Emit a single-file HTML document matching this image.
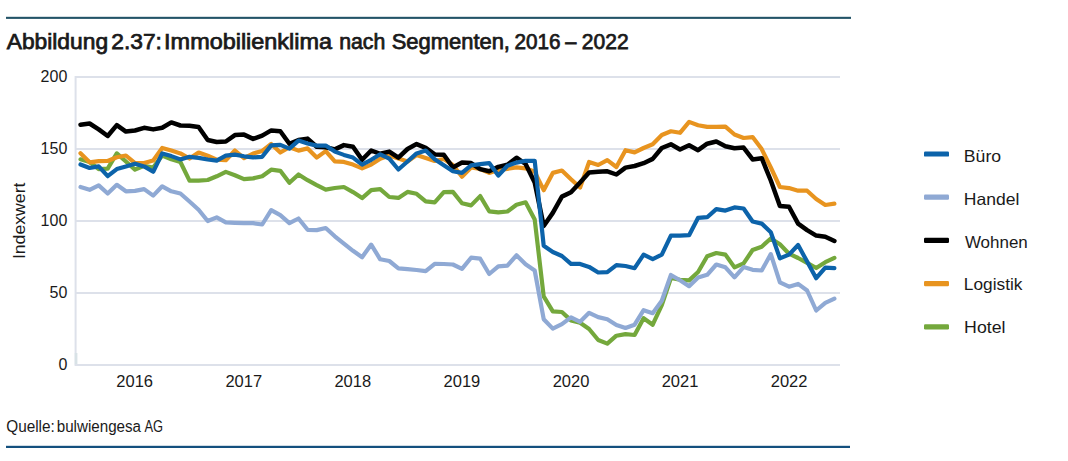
<!DOCTYPE html>
<html><head><meta charset="utf-8">
<style>
html,body{margin:0;padding:0;background:#fff;}
body{width:1068px;height:461px;overflow:hidden;position:relative;font-family:"Liberation Sans",sans-serif;color:#1a1a1a;}
svg{position:absolute;left:0;top:0;}
svg text{font-family:"Liberation Sans",sans-serif;fill:#1a1a1a;}
</style></head><body>
<svg width="1068" height="461" viewBox="0 0 1068 461">
<rect x="6" y="16.8" width="845" height="2.1" fill="#235468"/>
<g font-size="21.5" stroke="#1a1a1a" stroke-width="0.75"><text x="6.7" y="48.8" textLength="101.38" lengthAdjust="spacingAndGlyphs">Abbildung</text><text x="111.34" y="48.8" textLength="50.59" lengthAdjust="spacingAndGlyphs">2.37:</text><text x="164.12" y="48.8" textLength="167.93" lengthAdjust="spacingAndGlyphs">Immobilienklima</text><text x="339.21" y="48.8" textLength="46.11" lengthAdjust="spacingAndGlyphs">nach</text><text x="391.68" y="48.8" textLength="118.31" lengthAdjust="spacingAndGlyphs">Segmenten,</text><text x="514.44" y="48.8" textLength="46.08" lengthAdjust="spacingAndGlyphs">2016</text><text x="565.3" y="48.8" textLength="11.17" lengthAdjust="spacingAndGlyphs">–</text><text x="581.82" y="48.8" textLength="46.8" lengthAdjust="spacingAndGlyphs">2022</text></g>
<line x1="76" y1="293.00" x2="840" y2="293.00" stroke="#dde1ea" stroke-width="2"/>
<line x1="76" y1="221.00" x2="840" y2="221.00" stroke="#dde1ea" stroke-width="2"/>
<line x1="76" y1="149.00" x2="840" y2="149.00" stroke="#dde1ea" stroke-width="2"/>
<line x1="76" y1="77.00" x2="840" y2="77.00" stroke="#dde1ea" stroke-width="2"/>
<line x1="75.6" y1="76" x2="75.6" y2="366" stroke="#dde1ea" stroke-width="2"/><rect x="74.8" y="353" width="2.6" height="12" fill="#d8e2e6"/>
<line x1="75" y1="365" x2="840" y2="365" stroke="#dde1ea" stroke-width="2"/>
<g font-size="16">
<text x="67.3" y="370.2" text-anchor="end">0</text>
<text x="67.3" y="298.2" text-anchor="end">50</text>
<text x="67.3" y="226.2" text-anchor="end">100</text>
<text x="67.3" y="154.2" text-anchor="end">150</text>
<text x="67.3" y="82.2" text-anchor="end">200</text>
<text x="134.7" y="387" text-anchor="middle" font-size="16.5">2016</text>
<text x="243.8" y="387" text-anchor="middle" font-size="16.5">2017</text>
<text x="352.8" y="387" text-anchor="middle" font-size="16.5">2018</text>
<text x="461.9" y="387" text-anchor="middle" font-size="16.5">2019</text>
<text x="571.0" y="387" text-anchor="middle" font-size="16.5">2020</text>
<text x="680.0" y="387" text-anchor="middle" font-size="16.5">2021</text>
<text x="789.1" y="387" text-anchor="middle" font-size="16.5">2022</text>
</g>
<text transform="translate(25.2,259.1) rotate(-90)" x="0" y="0" font-size="16" textLength="76.52" lengthAdjust="spacingAndGlyphs">Indexwert</text>
<polyline points="80.5,159.3 89.6,162.0 98.7,169.1 107.7,168.6 116.8,153.4 125.9,161.5 135.0,169.6 144.1,165.8 153.2,167.5 162.2,155.5 171.3,159.3 180.4,162.0 189.5,180.6 198.6,180.6 207.7,180.0 216.7,176.3 225.8,171.9 234.9,175.2 244.0,179.1 253.1,178.4 262.2,176.3 271.2,169.7 280.3,170.8 289.4,182.8 298.5,174.5 307.6,180.2 316.7,185.1 325.7,189.6 334.8,188.0 343.9,187.0 353.0,192.1 362.1,198.1 371.2,190.2 380.2,189.2 389.3,197.0 398.4,197.9 407.5,191.9 416.6,193.8 425.7,201.3 434.7,202.4 443.8,192.1 452.9,191.9 462.0,203.2 471.1,205.4 480.2,196.1 489.2,211.3 498.3,212.4 507.4,211.5 516.5,204.8 525.6,202.3 534.7,219.4 543.7,296.4 552.8,311.4 561.9,312.0 571.0,320.4 580.1,322.8 589.1,329.0 598.2,340.0 607.3,343.6 616.4,335.7 625.5,334.1 634.6,335.0 643.6,318.2 652.7,324.7 661.8,305.2 670.9,278.0 680.0,279.8 689.1,280.4 698.1,272.0 707.2,256.3 716.3,253.0 725.4,254.6 734.5,267.4 743.6,263.4 752.6,250.0 761.7,246.7 770.8,238.5 779.9,244.3 789.0,253.7 798.1,258.0 807.1,262.8 816.2,268.0 825.3,262.2 834.4,257.9" fill="none" stroke="#74a83c" stroke-width="4.2" stroke-linejoin="round" stroke-linecap="round"/>
<polyline points="80.5,153.3 89.6,162.3 98.7,161.2 107.7,161.0 116.8,157.2 125.9,155.5 135.0,163.1 144.1,163.1 153.2,160.4 162.2,147.9 171.3,150.6 180.4,153.4 189.5,158.5 198.6,152.5 207.7,155.8 216.7,159.7 225.8,160.2 234.9,150.5 244.0,158.1 253.1,153.5 262.2,151.0 271.2,144.0 280.3,152.5 289.4,147.3 298.5,150.6 307.6,148.4 316.7,157.6 325.7,151.1 334.8,161.4 343.9,161.9 353.0,164.6 362.1,168.4 371.2,164.6 380.2,158.7 389.3,155.5 398.4,158.5 407.5,161.5 416.6,155.0 425.7,158.0 434.7,161.0 443.8,159.0 452.9,165.0 462.0,176.7 471.1,167.5 480.2,169.0 489.2,172.9 498.3,170.0 507.4,168.8 516.5,167.4 525.6,168.3 534.7,171.8 543.7,190.2 552.8,172.9 561.9,170.5 571.0,179.2 580.1,187.5 589.1,162.0 598.2,165.0 607.3,160.1 616.4,167.0 625.5,150.2 634.6,152.4 643.6,148.0 652.7,144.3 661.8,135.0 670.9,131.3 680.0,132.8 689.1,121.9 698.1,125.2 707.2,126.9 716.3,126.9 725.4,126.6 734.5,134.5 743.6,138.0 752.6,137.1 761.7,149.1 770.8,167.5 779.9,187.0 789.0,188.1 798.1,190.7 807.1,190.7 816.2,199.0 825.3,205.0 834.4,203.7" fill="none" stroke="#e8941f" stroke-width="4.2" stroke-linejoin="round" stroke-linecap="round"/>
<polyline points="80.5,124.8 89.6,123.5 98.7,129.4 107.7,136.0 116.8,125.1 125.9,131.6 135.0,130.5 144.1,127.8 153.2,129.4 162.2,127.8 171.3,122.4 180.4,125.5 189.5,125.8 198.6,127.0 207.7,140.0 216.7,142.0 225.8,141.5 234.9,135.1 244.0,134.6 253.1,138.9 262.2,135.6 271.2,130.4 280.3,131.3 289.4,143.8 298.5,140.0 307.6,138.6 316.7,146.7 325.7,147.3 334.8,149.4 343.9,145.1 353.0,146.7 362.1,159.8 371.2,150.5 380.2,153.8 389.3,151.6 398.4,157.6 407.5,149.0 416.6,144.1 425.7,147.9 434.7,154.4 443.8,154.8 452.9,167.5 462.0,162.6 471.1,163.1 480.2,169.1 489.2,171.3 498.3,166.9 507.4,164.8 516.5,157.7 525.6,164.0 534.7,182.5 543.7,226.0 552.8,212.9 561.9,196.6 571.0,192.3 580.1,182.5 589.1,172.5 598.2,171.8 607.3,171.3 616.4,174.5 625.5,167.6 634.6,166.0 643.6,163.2 652.7,158.9 661.8,148.0 670.9,144.3 680.0,149.5 689.1,145.2 698.1,150.2 707.2,143.7 716.3,141.5 725.4,146.2 734.5,148.3 743.6,147.6 752.6,159.4 761.7,158.2 770.8,180.5 779.9,206.0 789.0,206.8 798.1,223.6 807.1,230.1 816.2,235.6 825.3,236.7 834.4,241.0" fill="none" stroke="#000000" stroke-width="4.5" stroke-linejoin="round" stroke-linecap="round"/>
<polyline points="80.5,187.0 89.6,189.8 98.7,185.4 107.7,193.5 116.8,184.8 125.9,191.3 135.0,190.9 144.1,189.1 153.2,195.6 162.2,186.3 171.3,191.3 180.4,193.5 189.5,201.5 198.6,209.8 207.7,221.0 216.7,217.4 225.8,222.4 234.9,222.8 244.0,223.2 253.1,223.2 262.2,224.5 271.2,210.2 280.3,215.2 289.4,223.2 298.5,218.5 307.6,229.8 316.7,230.1 325.7,228.0 334.8,236.3 343.9,243.7 353.0,250.8 362.1,257.2 371.2,244.6 380.2,259.3 389.3,261.0 398.4,268.4 407.5,269.2 416.6,270.0 425.7,271.2 434.7,263.9 443.8,264.0 452.9,264.5 462.0,268.9 471.1,257.7 480.2,258.7 489.2,274.0 498.3,266.4 507.4,265.6 516.5,255.3 525.6,264.2 534.7,270.5 543.7,319.2 552.8,328.6 561.9,324.2 571.0,317.3 580.1,321.8 589.1,312.8 598.2,317.1 607.3,319.3 616.4,325.0 625.5,328.0 634.6,324.7 643.6,310.2 652.7,313.2 661.8,300.8 670.9,275.0 680.0,280.2 689.1,286.2 698.1,277.5 707.2,274.8 716.3,264.5 725.4,267.3 734.5,277.3 743.6,267.1 752.6,269.8 761.7,270.5 770.8,254.1 779.9,282.3 789.0,286.7 798.1,283.9 807.1,290.5 816.2,310.5 825.3,302.9 834.4,298.6" fill="none" stroke="#8fa9d4" stroke-width="4.2" stroke-linejoin="round" stroke-linecap="round"/>
<polyline points="80.5,164.5 89.6,168.0 98.7,166.4 107.7,176.2 116.8,169.1 125.9,166.4 135.0,163.7 144.1,166.4 153.2,171.8 162.2,153.4 171.3,156.1 180.4,159.4 189.5,156.8 198.6,157.9 207.7,159.5 216.7,160.6 225.8,155.7 234.9,154.6 244.0,156.3 253.1,157.4 262.2,156.8 271.2,145.4 280.3,144.9 289.4,148.6 298.5,140.6 307.6,143.5 316.7,145.6 325.7,145.6 334.8,151.6 343.9,154.9 353.0,157.6 362.1,164.6 371.2,159.8 380.2,154.3 389.3,158.7 398.4,169.5 407.5,161.5 416.6,153.4 425.7,150.6 434.7,159.3 443.8,165.3 452.9,171.3 462.0,172.9 471.1,165.3 480.2,164.2 489.2,163.1 498.3,175.6 507.4,165.8 516.5,162.6 525.6,160.8 534.7,160.8 543.7,245.8 552.8,252.0 561.9,256.0 571.0,263.9 580.1,263.9 589.1,266.9 598.2,272.5 607.3,272.2 616.4,265.1 625.5,266.0 634.6,268.2 643.6,254.7 652.7,259.1 661.8,254.7 670.9,235.6 680.0,235.6 689.1,235.2 698.1,217.8 707.2,217.2 716.3,209.1 725.4,210.6 734.5,207.4 743.6,208.5 752.6,221.5 761.7,223.6 770.8,232.3 779.9,258.4 789.0,254.6 798.1,245.0 807.1,261.6 816.2,278.2 825.3,267.7 834.4,268.1" fill="none" stroke="#0c63aa" stroke-width="4.2" stroke-linejoin="round" stroke-linecap="round"/>
<g font-size="16.5">
<rect x="924" y="151.4" width="25" height="5.2" rx="1.2" fill="#0c63aa"/>
<text x="963.83" y="161.6" textLength="37.29" lengthAdjust="spacingAndGlyphs">Büro</text>
<rect x="924" y="194.6" width="25" height="5.2" rx="1.2" fill="#8fa9d4"/>
<text x="963.84" y="204.5" textLength="55.54" lengthAdjust="spacingAndGlyphs">Handel</text>
<rect x="924" y="237.8" width="25" height="5.2" rx="1.2" fill="#000000"/>
<text x="964.9" y="247.8" textLength="62.91" lengthAdjust="spacingAndGlyphs">Wohnen</text>
<rect x="924" y="281.0" width="25" height="5.2" rx="1.2" fill="#e8941f"/>
<text x="963.85" y="289.8" textLength="58.6" lengthAdjust="spacingAndGlyphs">Logistik</text>
<rect x="924" y="324.2" width="25" height="5.2" rx="1.2" fill="#74a83c"/>
<text x="964.13" y="332.8" textLength="41.34" lengthAdjust="spacingAndGlyphs">Hotel</text>
</g>
<g font-size="16"><text x="6.24" y="431.8" textLength="48.59" lengthAdjust="spacingAndGlyphs">Quelle:</text><text x="56.75" y="431.8" textLength="84.3" lengthAdjust="spacingAndGlyphs">bulwiengesa</text><text x="144.4" y="431.8" textLength="18.61" lengthAdjust="spacingAndGlyphs">AG</text></g>
<rect x="6" y="445.8" width="844" height="2.2" fill="#14507e"/>
</svg>
</body></html>
